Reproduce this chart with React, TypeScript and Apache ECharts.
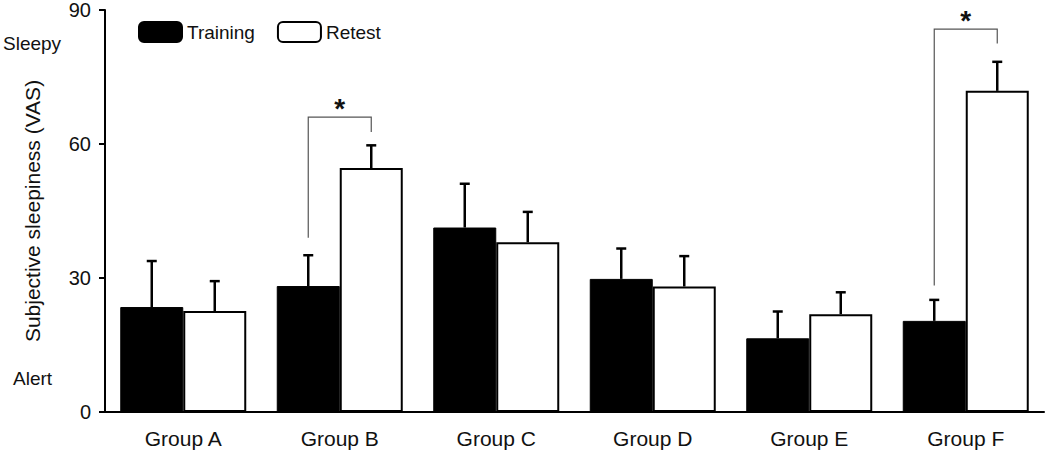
import React, { useEffect, useRef } from "react";
import * as echarts from "echarts";

const categories = ["Group A", "Group B", "Group C", "Group D", "Group E", "Group F"];
const trainingMeans = [23.5, 28.2, 41.3, 29.8, 16.5, 20.4];
const trainingErrors = [10.3, 6.9, 9.8, 6.8, 6.0, 4.7];
const retestMeans = [22.6, 54.6, 38.0, 28.1, 21.9, 71.9];
const retestErrors = [6.7, 5.1, 6.8, 6.8, 4.9, 6.5];
// [categoryIndex, leftBottom, top, rightBottom]
const brackets = [
  [1, 39, 66, 62.7],
  [5, 28.3, 85.7, 82.5],
];
const yTicks = [0, 30, 60, 90];

const FONT = "'Liberation Sans', Arial, sans-serif";
const BAR_W = 63;

export default function App() {
  const ref = useRef<HTMLDivElement>(null);
  useEffect(() => {
    if (!ref.current) return;
    const chart = echarts.init(ref.current, null, { renderer: "svg" });

    const errSeries = (name: string, means: number[], errs: number[], offset: number) => ({
      type: "custom",
      name,
      z: 5,
      data: means.map((m, i) => [i, m, errs[i]]),
      renderItem: (params: any, api: any) => {
        const idx = api.value(0);
        const mean = api.value(1);
        const err = api.value(2);
        const base = api.coord([idx, mean]);
        const top = api.coord([idx, mean + err]);
        const x = base[0] + offset;
        return {
          type: "group",
          children: [
            { type: "line", shape: { x1: x, y1: base[1], x2: x, y2: top[1] }, style: { stroke: "#000", lineWidth: 2.5 } },
            { type: "line", shape: { x1: x - 5, y1: top[1], x2: x + 5, y2: top[1] }, style: { stroke: "#000", lineWidth: 2.5 } },
          ],
        };
      },
    });

    chart.setOption({
      animation: false,
      grid: { left: 105, right: 6, top: 10, bottom: 42 },
      legend: {
        data: ["Training", "Retest"],
        left: 133,
        top: 16,
        itemWidth: 43,
        itemHeight: 20,
        itemGap: 22,
        textStyle: { fontFamily: FONT, fontSize: 19, color: "#111" },
      },
      xAxis: {
        type: "category",
        data: categories,
        axisLine: { lineStyle: { color: "#000", width: 2 } },
        axisTick: { show: false },
        axisLabel: { fontFamily: FONT, fontSize: 21, color: "#111", margin: 16 },
      },
      yAxis: {
        type: "value",
        min: yTicks[0],
        max: yTicks[yTicks.length - 1],
        interval: 30,
        name: "Subjective sleepiness (VAS)",
        nameLocation: "middle",
        nameRotate: 90,
        nameGap: 62,
        nameTextStyle: { fontFamily: FONT, fontSize: 21, color: "#111" },
        splitLine: { show: false },
        axisLine: { show: true, lineStyle: { color: "#000", width: 2 } },
        axisTick: { show: true, length: 6, lineStyle: { color: "#000", width: 2 } },
        axisLabel: { fontFamily: FONT, fontSize: 20, color: "#111", margin: 14 },
      },
      graphic: [
        { type: "text", left: 3, top: 34, style: { text: "Sleepy", font: `19px ${FONT}`, fill: "#111" } },
        { type: "text", left: 13, top: 369, style: { text: "Alert", font: `19px ${FONT}`, fill: "#111" } },
      ],
      series: [
        {
          type: "bar",
          name: "Training",
          data: trainingMeans,
          barWidth: BAR_W,
          barGap: "0%",
          itemStyle: { color: "#000", borderColor: "#000", borderWidth: 1 },
        },
        {
          type: "bar",
          name: "Retest",
          data: retestMeans,
          barWidth: BAR_W,
          barGap: "0%",
          itemStyle: { color: "#fff", borderColor: "#000", borderWidth: 2 },
        },
        errSeries("TrainingErr", trainingMeans, trainingErrors, -BAR_W / 2),
        errSeries("RetestErr", retestMeans, retestErrors, BAR_W / 2),
        {
          type: "custom",
          name: "Brackets",
          z: 6,
          data: brackets,
          renderItem: (params: any, api: any) => {
            const idx = api.value(0);
            const lb = api.coord([idx, api.value(1)]);
            const tp = api.coord([idx, api.value(2)]);
            const rb = api.coord([idx, api.value(3)]);
            const xl = lb[0] - BAR_W / 2;
            const xr = lb[0] + BAR_W / 2;
            return {
              type: "group",
              children: [
                {
                  type: "polyline",
                  shape: { points: [[xl, lb[1]], [xl, tp[1]], [xr, tp[1]], [xr, rb[1]]] },
                  style: { stroke: "#555", lineWidth: 1.2, fill: null },
                },
                {
                  type: "text",
                  x: lb[0],
                  y: tp[1] - 9,
                  style: { text: "*", font: `bold 28px ${FONT}`, fill: "#111", align: "center", verticalAlign: "middle" },
                },
              ],
            };
          },
        },
      ],
    });
    return () => chart.dispose();
  }, []);
  return (
    <div
      ref={ref}
      style={{ position: "absolute", left: 0, top: 0, width: 1050, height: 454 }}
    />
  );
}
